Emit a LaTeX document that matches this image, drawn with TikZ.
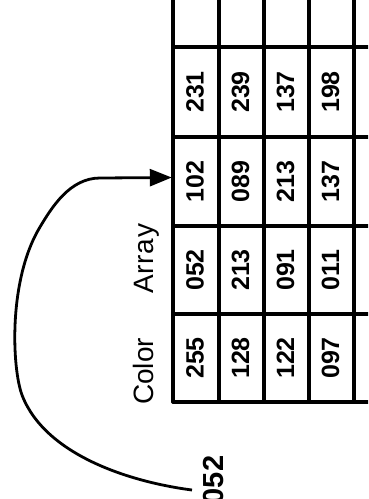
\documentclass[tikz,border=0pt]{standalone}
\usepackage{fontspec}
\usepackage{graphicx}
\setmainfont{Liberation Sans}
\usetikzlibrary{arrows.meta}
\begin{document}
\begin{tikzpicture}[x=1pt,y=-1pt,
  rule/.style={line width=3.2pt, line cap=round},
  cell/.style={minimum width=46pt, minimum height=89pt, inner sep=0pt,
    font=\bfseries\fontsize{25}{25}\selectfont},
  link/.style={line width=2.8pt, -{Triangle[length=22pt,width=17pt]}}]
\useasboundingbox (0,0) rectangle (368,499);
\clip (0,0) rectangle (368,499);

% grid of the array (rows and columns)
\foreach \x in {173,219,264,309,354} \draw[rule] (\x,-6) -- (\x,402);
\foreach \y in {47,137,226,314,402} \draw[rule] (173,\y) -- (374,\y);

% entries, one column per colour
\node[cell] (c11) at (195,358)   {\rotatebox{90}{255}};
\node[cell] (c12) at (195,270)   {\rotatebox{90}{052}};
\node[cell] (c13) at (195,181.5) {\rotatebox{90}{102}};
\node[cell] (c14) at (195,92)    {\rotatebox{90}{231}};
\node[cell] (c21) at (240.5,358)   {\rotatebox{90}{128}};
\node[cell] (c22) at (240.5,270)   {\rotatebox{90}{213}};
\node[cell] (c23) at (240.5,181.5) {\rotatebox{90}{089}};
\node[cell] (c24) at (240.5,92)    {\rotatebox{90}{239}};
\node[cell] (c31) at (285.5,358)   {\rotatebox{90}{122}};
\node[cell] (c32) at (285.5,270)   {\rotatebox{90}{091}};
\node[cell] (c33) at (285.5,181.5) {\rotatebox{90}{213}};
\node[cell] (c34) at (285.5,92)    {\rotatebox{90}{137}};
\node[cell] (c41) at (330.5,358)   {\rotatebox{90}{097}};
\node[cell] (c42) at (330.5,270)   {\rotatebox{90}{011}};
\node[cell] (c43) at (330.5,181.5) {\rotatebox{90}{137}};
\node[cell] (c44) at (330.5,92)    {\rotatebox{90}{198}};

% title beside the array
\node[rotate=90, anchor=base west, inner sep=0pt, font=\fontsize{28}{28}\selectfont]
  (title) at (153,405) {Color\hspace{44pt}{\addfontfeature{LetterSpace=3}Array}};

% index value and its pointer into the array
\node[rotate=90, anchor=base, inner sep=0pt, font=\bfseries\fontsize{29}{29}\selectfont]
  (idx) at (223,480) {052};
\coordinate (src) at (192,490);
\draw[link] (src) .. controls (130,482) and (45,455) .. (22,395)
  .. controls (12,368) and (8,280) .. (40,227)
  .. controls (52,207) and (70,178) .. (100,178)
  -- ([yshift=4pt]c13.west);
\end{tikzpicture}
\end{document}
